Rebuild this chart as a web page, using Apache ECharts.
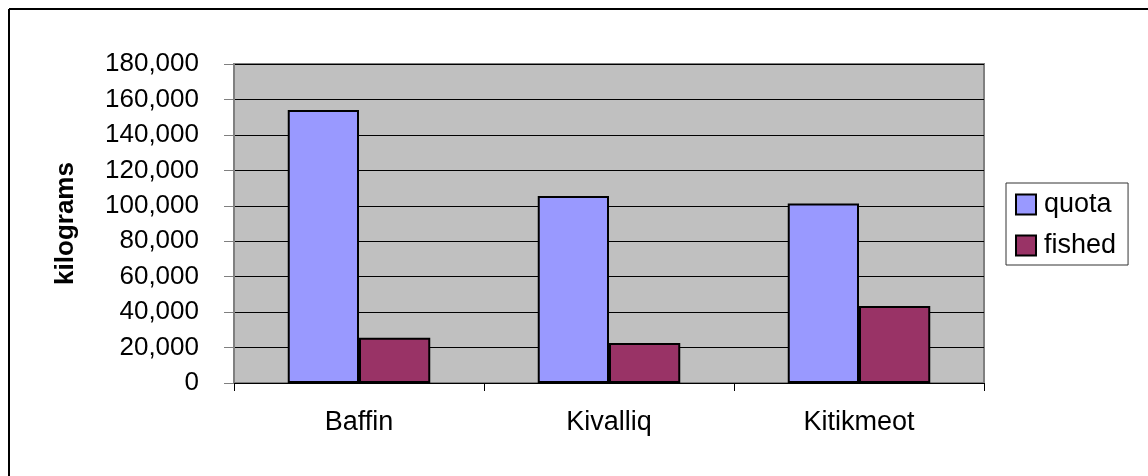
<!DOCTYPE html>
<html>
<head>
<meta charset="utf-8">
<script src="https://cdn.jsdelivr.net/npm/echarts@6/dist/echarts.min.js"></script>
<style>
  html, body { margin: 0; padding: 0; background: #fff; }
  #chart { width: 1148px; height: 476px; }
</style>
</head>
<body>
<div id="chart"></div>
<script>
"use strict";

// regions and catch values (kilograms)
var regions = ["Baffin", "Kivalliq", "Kitikmeot"];
var quota = [154000, 105500, 101300];
var fished = [25600, 22600, 43500];
var yTicks = { min: 0, max: 180000, step: 20000 };

var chartDom = document.getElementById("chart");
var myChart = echarts.init(chartDom, null, { renderer: "canvas" });
var font = "Liberation Sans, Arial, sans-serif";

var option = {
  animation: false,
  backgroundColor: "#ffffff",
  // outer frame (left + top edges only)
  graphic: [
    { type: "line", shape: { x1: 9, y1: 9, x2: 9, y2: 476 }, style: { stroke: "#000", lineWidth: 2 } },
    { type: "line", shape: { x1: 9, y1: 9, x2: 1148, y2: 9 }, style: { stroke: "#000", lineWidth: 2 } }
  ],
  grid: {
    left: 234,
    right: 164,
    top: 64,
    bottom: 93,
    show: true,
    backgroundColor: "#C0C0C0",
    borderColor: "#808080",
    borderWidth: 2
  },
  legend: {
    orient: "vertical",
    left: 1006,
    top: 183,
    padding: [8, 12, 6, 9],
    itemWidth: 20,
    itemHeight: 20,
    itemGap: 14,
    icon: "rect",
    backgroundColor: "#fff",
    borderColor: "#333",
    borderWidth: 1,
    textStyle: { fontFamily: font, fontSize: 27, color: "#000", padding: [0, 0, 0, 3] },
    itemStyle: { borderColor: "#000", borderWidth: 2 },
    data: ["quota", "fished"]
  },
  xAxis: {
    type: "category",
    data: regions,
    axisLine: { show: true, lineStyle: { color: "#000", width: 1 } },
    axisTick: { show: true, length: 8, lineStyle: { color: "#000" } },
    axisLabel: { fontFamily: font, fontSize: 27, color: "#000", margin: 26 },
    splitLine: { show: false }
  },
  yAxis: {
    type: "value",
    min: yTicks.min,
    max: yTicks.max,
    interval: yTicks.step,
    name: "kilograms",
    nameLocation: "middle",
    nameGap: 155,
    nameRotate: 90,
    nameTextStyle: { fontFamily: font, fontSize: 26, fontWeight: "bold", color: "#000" },
    axisLine: { show: true, lineStyle: { color: "#808080", width: 2 } },
    axisTick: { show: true, length: 10, lineStyle: { color: "#808080" } },
    axisLabel: {
      fontFamily: font,
      fontSize: 26,
      color: "#000",
      margin: 35,
      formatter: function (v) { return v.toLocaleString("en-US"); }
    },
    splitLine: { show: true, lineStyle: { color: "#000", width: 1 } }
  },
  series: [
    {
      name: "quota",
      type: "bar",
      data: quota,
      barGap: "0%",
      barCategoryGap: "43%",
      itemStyle: { color: "#9999FF", borderColor: "#000", borderWidth: 2 }
    },
    {
      name: "fished",
      type: "bar",
      data: fished,
      itemStyle: { color: "#993366", borderColor: "#000", borderWidth: 2 }
    }
  ]
};

option && myChart.setOption(option);
window.onresize = function () {
  myChart.resize();
};
</script>
</body>
</html>
